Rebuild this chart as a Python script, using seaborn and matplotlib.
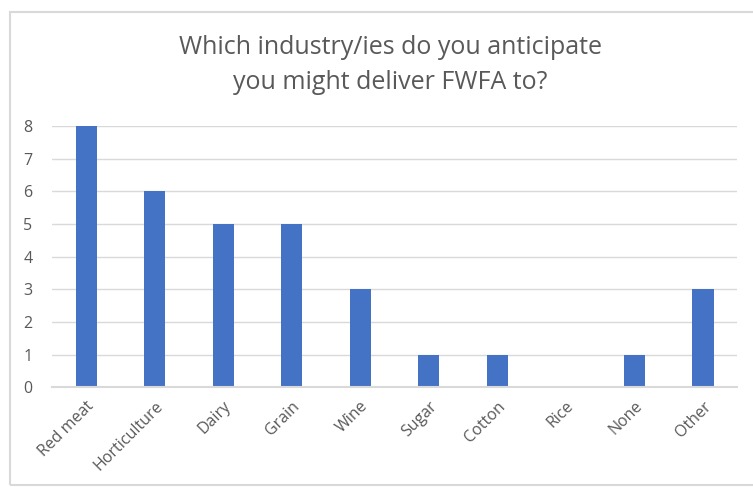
import matplotlib
matplotlib.use("Agg")
import matplotlib.pyplot as plt
import matplotlib.patches as mpatches
import seaborn as sns
import pandas as pd

# Données
industries = ["Red meat", "Horticulture", "Dairy", "Grain", "Wine",
              "Sugar", "Cotton", "Rice", "None", "Other"]
reponses = [8, 6, 5, 5, 3, 1, 1, 0, 1, 3]

TITRE = "Which industry/ies do you anticipate\nyou might deliver FWFA to?"
GRIS = "#595959"
BLEU = "#4472C4"


def main():
    df = pd.DataFrame({"industrie": industries, "n": reponses})

    sns.set_theme(style="white")
    plt.rcParams["font.family"] = ["Open Sans", "DejaVu Sans"]

    fig = plt.figure(figsize=(7.53, 4.87), dpi=100)
    ax = fig.add_axes([0.069, 0.205, 0.910, 0.536])

    sns.barplot(data=df, x="industrie", y="n", color=BLEU, width=0.31,
                saturation=1, linewidth=0, ax=ax)

    ax.set_ylim(0, 8)
    ax.set_yticks(range(0, 9))
    ax.yaxis.grid(True, color="#D9D9D9", linewidth=1)
    ax.set_axisbelow(True)
    for s in ["top", "right", "left"]:
        ax.spines[s].set_visible(False)
    ax.spines["bottom"].set_color("#D9D9D9")
    ax.spines["bottom"].set_linewidth(1.5)

    ax.set_xlabel("")
    ax.set_ylabel("")
    ax.tick_params(axis="both", length=0, colors=GRIS, labelsize=11.5)
    ax.tick_params(axis="y", pad=14)
    ax.set_xticks(range(len(industries)))
    ax.set_xticklabels(industries, rotation=45, ha="right",
                       rotation_mode="anchor")
    ax.tick_params(axis="x", pad=8)

    fig.text(0.518, 0.867, TITRE, ha="center", va="center", fontsize=18,
             color=GRIS, linespacing=1.55)

    # Cadre du graphique façon Excel
    cadre = mpatches.Rectangle((10 / 753, 2 / 487), 1.0, 1 - 14 / 487,
                               transform=fig.transFigure, fill=False,
                               edgecolor="#D9D9D9", linewidth=1.5)
    fig.patches.append(cadre)

    fig.savefig("out.png", dpi=100)


if __name__ == "__main__":
    main()
